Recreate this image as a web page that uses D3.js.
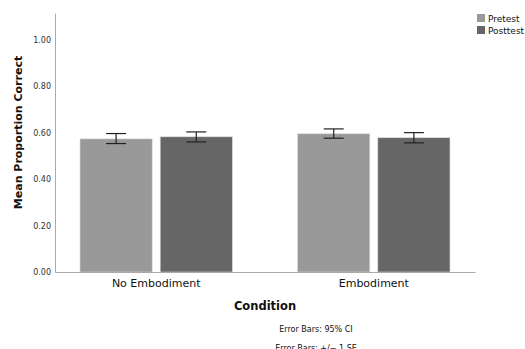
<!DOCTYPE html>
<html>
<head>
<meta charset="utf-8">
<script src="https://cdn.jsdelivr.net/npm/d3@7"></script>
<style>
  body { margin: 0; background: #fff; }
  svg { font-family: "DejaVu Sans", sans-serif; display: block; }
</style>
</head>
<body>
<svg id="chart" width="525" height="349"></svg>
<script>
// data
var conditions = ["No Embodiment", "Embodiment"];
var tests = ["Pretest", "Posttest"];
var means = [[0.573, 0.582], [0.595, 0.578]];
var ciLow = [[0.553, 0.560], [0.576, 0.556]];
var ciHigh = [[0.596, 0.603], [0.616, 0.600]];
var yTicks = [0, 0.2, 0.4, 0.6, 0.8, 1.0];

var colors = { Pretest: "#999999", Posttest: "#666666" };

var svg = d3.select("#chart"),
  margin = { top: 13, left: 55, right: 50, bottom: 77 },
  width = +svg.attr("width") - margin.left - margin.right,
  height = +svg.attr("height") - margin.top - margin.bottom;

var rows = [];
conditions.forEach(function (c, i) {
  tests.forEach(function (t, j) {
    rows.push({ cond: c, test: t, mean: means[i][j], lo: ciLow[i][j], hi: ciHigh[i][j] });
  });
});

var x0 = d3.scaleBand()
  .domain(conditions)
  .range([margin.left, margin.left + width])
  .paddingInner(0.3)
  .paddingOuter(0.115);

var x1 = d3.scaleBand()
  .domain(tests)
  .range([0, x0.bandwidth()])
  .paddingInner(0.1);

var y = d3.scaleLinear()
  .domain([0, 1.115])
  .range([margin.top + height, margin.top]);

// y axis
var yAxis = svg.append("g")
  .attr("transform", "translate(" + margin.left + ",0)")
  .call(d3.axisLeft(y).tickValues(yTicks).tickFormat(d3.format(".2f")).tickSize(0).tickPadding(4));
yAxis.select(".domain").attr("stroke", "#aaa");
yAxis.selectAll("text").attr("font-size", 8).attr("fill", "#333").attr("font-family", "DejaVu Sans");

// bars
svg.append("g")
  .selectAll("rect")
  .data(rows)
  .enter()
  .append("rect")
  .attr("x", (d) => x0(d.cond) + x1(d.test))
  .attr("y", (d) => y(d.mean))
  .attr("width", x1.bandwidth())
  .attr("height", (d) => y(0) - y(d.mean))
  .attr("fill", (d) => colors[d.test])
  .attr("stroke", "#d8d8d8")
  .attr("stroke-width", 0.6);

// error bars
var eb = svg.append("g")
  .selectAll("g")
  .data(rows)
  .enter()
  .append("g")
  .attr("stroke", "#222")
  .attr("stroke-width", 1.2);
var cx = (d) => x0(d.cond) + x1(d.test) + x1.bandwidth() / 2;
eb.append("line")
  .attr("x1", cx).attr("x2", cx)
  .attr("y1", (d) => y(d.lo)).attr("y2", (d) => y(d.hi));
eb.append("line")
  .attr("x1", (d) => cx(d) - 10).attr("x2", (d) => cx(d) + 10)
  .attr("y1", (d) => y(d.lo)).attr("y2", (d) => y(d.lo));
eb.append("line")
  .attr("x1", (d) => cx(d) - 10).attr("x2", (d) => cx(d) + 10)
  .attr("y1", (d) => y(d.hi)).attr("y2", (d) => y(d.hi));

// x axis
var xAxis = svg.append("g")
  .attr("transform", "translate(0," + y(0) + ")")
  .call(d3.axisBottom(x0).tickSize(0).tickPadding(7));
xAxis.select(".domain").attr("stroke", "#aaa").attr("stroke-width", 1.2);
xAxis.selectAll("text").attr("font-size", 11).attr("fill", "#111").attr("font-family", "DejaVu Sans");

// axis titles
svg.append("text")
  .attr("transform", "translate(22," + (margin.top + height / 2 - 10) + ") rotate(-90)")
  .attr("text-anchor", "middle")
  .attr("font-size", 11)
  .attr("font-weight", "bold")
  .attr("fill", "#111")
  .text("Mean Proportion Correct");

svg.append("text")
  .attr("x", 265)
  .attr("y", 310)
  .attr("text-anchor", "middle")
  .attr("font-size", 11.5)
  .attr("font-weight", "bold")
  .attr("fill", "#111")
  .text("Condition");

svg.append("text")
  .attr("x", 316)
  .attr("y", 332)
  .attr("text-anchor", "middle")
  .attr("font-size", 8)
  .attr("fill", "#111")
  .text("Error Bars: 95% CI");

svg.append("text")
  .attr("x", 316)
  .attr("y", 351)
  .attr("text-anchor", "middle")
  .attr("font-size", 8)
  .attr("fill", "#111")
  .text("Error Bars: +/\u2212 1 SE");

// legend
var legend = svg.append("g")
  .selectAll("g")
  .data(tests)
  .enter()
  .append("g")
  .attr("transform", (d, i) => "translate(477," + (14 + i * 12) + ")");
legend.append("rect")
  .attr("width", 8)
  .attr("height", 8)
  .attr("fill", (d) => colors[d]);
legend.append("text")
  .attr("x", 11)
  .attr("y", 7.5)
  .attr("font-size", 9)
  .attr("fill", "#111")
  .text((d) => d);
</script>
</body>
</html>
